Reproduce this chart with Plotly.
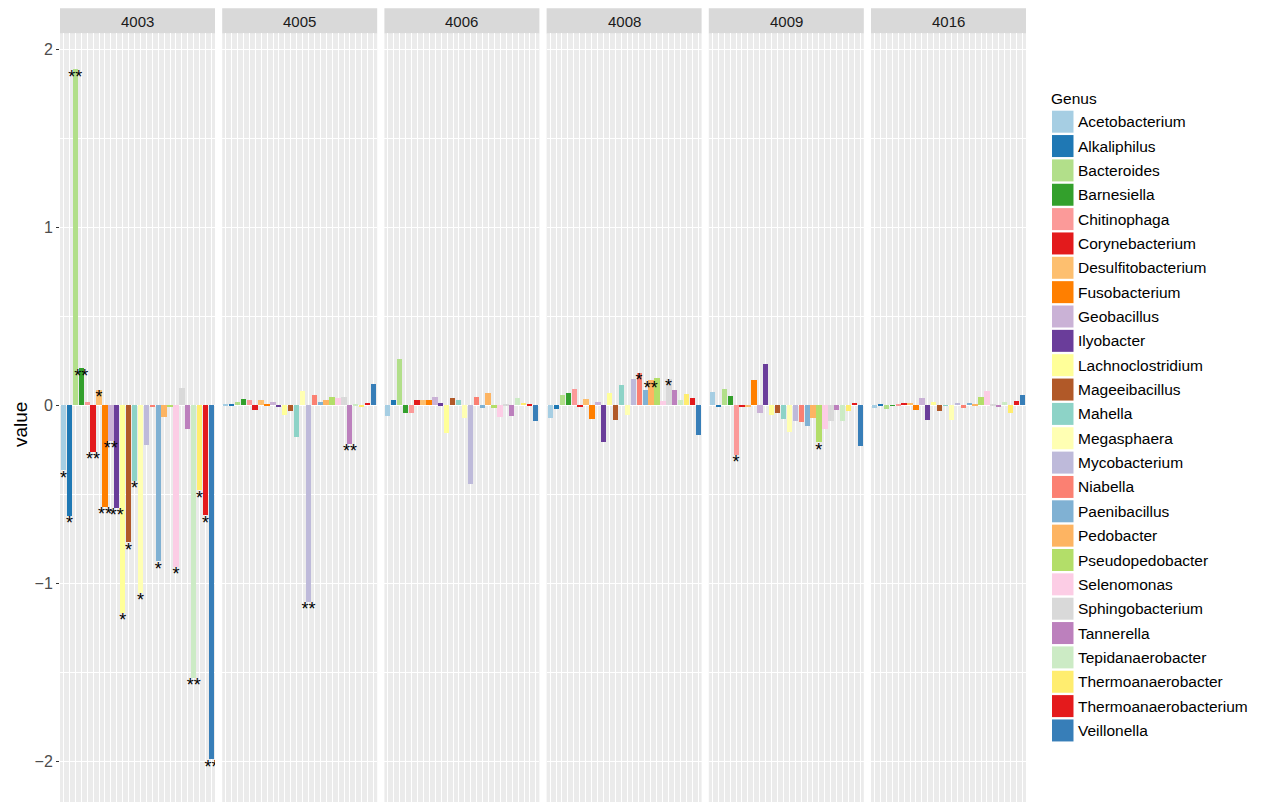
import plotly.graph_objects as go
from plotly.subplots import make_subplots

# Genus order along each panel's x axis
genera = ["Acetobacterium", "Alkaliphilus", "Bacteroides", "Barnesiella", "Chitinophaga",
          "Corynebacterium", "Desulfitobacterium", "Fusobacterium", "Geobacillus", "Ilyobacter",
          "Lachnoclostridium", "Mageeibacillus", "Mahella", "Megasphaera", "Mycobacterium",
          "Niabella", "Paenibacillus", "Pedobacter", "Pseudopedobacter", "Selenomonas",
          "Sphingobacterium", "Tannerella", "Tepidanaerobacter", "Thermoanaerobacter",
          "Thermoanaerobacterium", "Veillonella"]

genus_colors = ["#A6CEE3", "#1F78B4", "#B2DF8A", "#33A02C", "#FB9A99", "#E31A1C", "#FDBF6F",
                "#FF7F00", "#CAB2D6", "#6A3D9A", "#FFFF99", "#B15928", "#8DD3C7", "#FFFFB3",
                "#BEBADA", "#FB8072", "#80B1D3", "#FDB462", "#B3DE69", "#FCCDE5", "#D9D9D9",
                "#BC80BD", "#CCEBC5", "#FFED6F", "#E41A1C", "#377EB8"]

samples = ["4003", "4005", "4006", "4008", "4009", "4016"]

v4003 = [-0.365, -0.62, 1.889, 0.208, 0.017, -0.262, 0.086, -0.571, -0.2, -0.575,
         -1.165, -0.768, -0.425, -1.054, -0.225, -0.01, -0.875, -0.066, -0.012, -0.908,
         0.095, -0.131, -1.53, -0.478, -0.618, -1.989]
v4005 = [0.002, 0.004, 0.019, 0.034, 0.03, -0.024, 0.032, 0.003, 0.02, -0.011,
         -0.052, -0.034, -0.176, 0.079, -1.105, 0.058, 0.02, 0.03, 0.047, 0.041,
         0.047, -0.215, 0.002, -0.005, 0.013, 0.12]
v4006 = [-0.058, 0.028, 0.26, -0.041, -0.043, 0.028, 0.03, 0.03, 0.047, 0.011,
         -0.157, 0.041, 0.03, -0.073, -0.442, 0.049, -0.015, 0.069, -0.015, -0.067,
         0.003, -0.062, 0.041, 0.013, 0.009, -0.086]
v4008 = [-0.073, -0.019, 0.058, 0.067, 0.092, -0.009, 0.037, -0.079, 0.02, -0.206,
         0.067, -0.081, 0.112, -0.054, 0.148, 0.182, 0.088, 0.142, 0.154, 0.024,
         0.148, 0.086, 0.032, 0.064, 0.041, -0.167]
v4009 = [0.077, -0.0075, 0.09, 0.054, -0.279, -0.008, -0.011, 0.144, -0.041, 0.232,
         -0.052, -0.043, -0.079, -0.15, -0.088, -0.094, -0.116, -0.069, -0.208, -0.135,
         -0.088, -0.028, -0.086, -0.03, 0.013, -0.227]
v4016 = [-0.013, 0.006, -0.022, -0.002, 0.009, 0.013, 0.013, -0.028, 0.041, -0.084,
         0.019, -0.034, -0.002, -0.082, 0.013, -0.017, 0.013, 0.009, 0.047, 0.081,
         0.006, -0.006, 0.021, -0.045, 0.022, 0.06]

# Significance marks per genus
s4003 = ["*", "*", "**", "**", "", "**", "*", "**", "**", "**", "*", "*", "*", "*", "", "",
         "*", "", "", "*", "", "", "**", "*", "*", "**"]
s4005 = [""] * 14 + ["**"] + [""] * 6 + ["**"] + [""] * 4
s4006 = [""] * 26
s4008 = [""] * 15 + ["*", "", "**", "", "", "*"] + [""] * 5
s4009 = ["", "", "", "", "*"] + [""] * 13 + ["*"] + [""] * 7
s4016 = [""] * 26

values = [v4003, v4005, v4006, v4008, v4009, v4016]
signif = [s4003, s4005, s4006, s4008, s4009, s4016]

y_ticks = [-2, -1, 0, 1, 2]
y_tick_text = ["\u22122", "\u22121", "0", "1", "2"]

FONT = "Liberation Sans, Arial, Helvetica, sans-serif"
W, H = 1269, 802
ML, MR, MT, MB = 60, 243, 33, 0
PW, PH = W - ML - MR, H - MT - MB


def px_x(p):
    return (p - ML) / PW


def px_y(p):
    return 1 - (p - MT) / PH


fig = make_subplots(rows=1, cols=6, shared_yaxes=True, horizontal_spacing=7.2 / PW)

xpos = list(range(1, len(genera) + 1))
for i, (vals, marks) in enumerate(zip(values, signif)):
    col = i + 1
    fig.add_trace(go.Bar(x=xpos, y=vals, width=0.9, marker=dict(color=genus_colors, line=dict(width=0)),
                         customdata=genera, hovertemplate="%{customdata}: %{y}<extra></extra>",
                         showlegend=False), row=1, col=col)
    fig.add_trace(go.Scatter(x=xpos, y=vals, mode="text", text=marks, textposition="bottom center",
                             textfont=dict(family=FONT, size=18, color="black"),
                             hoverinfo="skip", showlegend=False, cliponaxis=True), row=1, col=col)

y_lo = (405.3 - H) / 178.0
y_hi = (405.3 - MT) / 178.0

for i in range(6):
    key = "xaxis" if i == 0 else f"xaxis{i + 1}"
    fig.layout[key].update(range=[0.4, 26.6], tickvals=xpos, showticklabels=False, ticks="",
                           showgrid=True, gridcolor="white", gridwidth=1.2, zeroline=False,
                           showline=False, fixedrange=True)
    ykey = "yaxis" if i == 0 else f"yaxis{i + 1}"
    fig.layout[ykey].update(range=[y_lo, y_hi], tickvals=y_ticks, showgrid=True, gridcolor="white",
                            gridwidth=1.2, zeroline=False, showline=False,
                            minor=dict(tickvals=[-1.5, -0.5, 0.5, 1.5], showgrid=True,
                                       gridcolor="white", gridwidth=0.6, ticks=""))

fig.layout.yaxis.update(ticktext=y_tick_text, ticks="outside", ticklen=3, tickwidth=1,
                        tickcolor="#333333", tickfont=dict(family=FONT, size=16, color="#4D4D4D"))

shapes = []
annotations = []
# Facet strips
for i, s in enumerate(samples):
    key = "xaxis" if i == 0 else f"xaxis{i + 1}"
    d0, d1 = fig.layout[key].domain
    shapes.append(dict(type="rect", xref="paper", yref="paper", x0=d0, x1=d1,
                       y0=px_y(33.3), y1=px_y(8.3), fillcolor="#D9D9D9", line=dict(width=0),
                       layer="below"))
    annotations.append(dict(text=s, xref="paper", yref="paper", x=(d0 + d1) / 2, y=px_y(21),
                            xanchor="center", yanchor="middle", showarrow=False,
                            font=dict(family=FONT, size=15, color="#1A1A1A")))

# Y axis title
annotations.append(dict(text="value", xref="paper", yref="paper", x=px_x(20), y=px_y(425),
                        xanchor="center", yanchor="middle", textangle=-90, showarrow=False,
                        font=dict(family=FONT, size=19, color="black")))

# Legend
annotations.append(dict(text="Genus", xref="paper", yref="paper", x=px_x(1049), y=px_y(98.5),
                        xanchor="left", yanchor="middle", showarrow=False,
                        font=dict(family=FONT, size=15.5, color="black")))
for i, (g, c) in enumerate(zip(genera, genus_colors)):
    top = 110.7 + 24.35 * i
    shapes.append(dict(type="rect", xref="paper", yref="paper", x0=px_x(1052), x1=px_x(1073.5),
                       y0=px_y(top + 22), y1=px_y(top), fillcolor=c, line=dict(width=0)))
    annotations.append(dict(text=g, xref="paper", yref="paper", x=px_x(1075.5), y=px_y(top + 11),
                            xanchor="left", yanchor="middle", showarrow=False,
                            font=dict(family=FONT, size=15.5, color="black")))

fig.update_layout(width=W, height=H, margin=dict(l=ML, r=MR, t=MT, b=MB, pad=0),
                  paper_bgcolor="white", plot_bgcolor="#EBEBEB", bargap=0,
                  shapes=shapes, annotations=annotations, showlegend=False,
                  font=dict(family=FONT))

fig.write_html("out.html")
